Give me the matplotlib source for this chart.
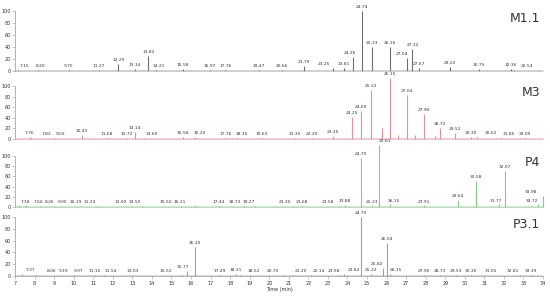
import matplotlib
matplotlib.use("Agg")
import matplotlib.pyplot as plt

# retention times (min) and relative abundance (%) of labelled peaks
m11_t = [7.15, 8.20, 9.75, 11.27, 12.29, 13.14, 13.82, 14.21, 15.58, 16.97, 17.76, 19.47,
         20.66, 21.79, 23.25, 23.81, 24.26, 24.74, 25.23, 26.16, 27.04, 27.32, 27.67,
         29.22, 30.75, 32.36, 32.54]
m11_h = [2, 2, 2, 2, 12, 3, 25, 1, 3, 2, 2, 2,
         2, 8, 5, 5, 23, 100, 40, 40, 22, 37, 5,
         6, 3, 4, 2]

m3_t = [7.76, 7.82, 9.03, 10.43, 11.68, 12.72, 13.14, 13.60, 15.58, 16.20, 17.76, 18.35,
        19.63, 21.30, 22.20, 23.25, 24.25, 24.69, 25.22, 26.15, 27.04, 27.90, 28.72,
        29.52, 30.30, 30.62, 31.85, 33.09]
m3_h = [3, 2, 2, 8, 1, 2, 13, 2, 4, 3, 2, 1,
        2, 2, 2, 5, 41, 53, 92, 115, 83, 47, 21,
        11, 3, 3, 2, 2]
m3_extra_t = [25.78, 26.60, 27.45, 28.50]
m3_extra_h = [20, 8, 7, 6]

p4_t = [7.18, 7.56, 8.26, 9.00, 10.19, 11.23, 13.00, 13.50, 15.50, 16.21, 17.44, 18.73,
        19.27, 21.20, 21.68, 23.58, 23.88, 24.70, 25.23, 25.61, 26.15, 27.91, 29.64,
        30.58, 31.77, 32.07, 33.72, 33.98]
p4_h = [3, 3, 2, 2, 2, 2, 2, 2, 2, 3, 2, 2,
        2, 2, 2, 2, 4, 96, 3, 122, 5, 3, 14,
        51, 5, 70, 5, 22]

p31_t = [7.37, 8.06, 9.19, 9.97, 11.10, 11.54, 13.03, 15.52, 15.77, 16.20, 17.49, 18.31,
         18.52, 20.70, 21.20, 22.14, 23.58, 23.82, 24.70, 25.22, 25.82, 26.04, 26.15,
         27.90, 28.73, 29.53, 30.30, 31.05, 32.81, 33.39]
p31_h = [3, 2, 2, 2, 2, 2, 2, 2, 8, 49, 2, 3,
         2, 2, 2, 2, 2, 3, 100, 3, 14, 56, 3,
         2, 2, 2, 2, 2, 2, 2]

names = ["M1.1", "M3", "P4", "P3.1"]

# label nudges (min), keyed by label text, so labels do not collide
nudge = [
    {"7.15": 0.35, "8.20": 0.1, "14.21": 0.15, "23.25": -0.45, "24.26": -0.15,
     "27.04": -0.25, "32.54": 0.65},
    {"7.82": 0.8, "9.03": 0.3, "13.60": 0.4, "16.20": 0.26, "18.35": 0.25, "30.62": 0.7,
     "31.85": 0.4},
    {"7.18": 0.35, "7.56": 0.62, "8.26": 0.5, "9.00": 0.45, "10.19": -0.1, "11.23": -0.4,
     "13.00": -0.6, "13.50": -0.4, "15.50": -0.8, "16.21": -0.8, "18.73": -0.5,
     "19.27": -0.3, "21.20": -0.4, "23.58": -0.6, "25.61": 0.3, "26.15": 0.25,
     "31.77": -0.2, "33.98": -0.6, "33.72": -0.3},
    {"7.37": 0.4, "8.06": 0.8, "9.19": 0.3, "9.97": 0.3, "11.54": 0.36, "15.52": -0.8,
     "15.77": -0.17, "18.52": 0.7, "20.70": -0.5, "21.20": 0.4, "22.14": 0.4,
     "23.58": -0.25, "23.82": 0.5, "25.82": -0.3, "26.15": 0.35, "31.05": 0.3,
     "32.81": -0.35},
]

colors = ["#6e6e6e", "#e58f9c", "#86cc86", "#9a9ad8"]
base_colors = ["#c8c8c8", "#f2c6cc", "#c4e8c4", "#cfcfee"]
# axes rectangles in figure fraction (left, bottom, width, height)
rects = [(0.0273, 0.7625, 0.96, 0.2007),
         (0.0273, 0.5351, 0.96, 0.1773),
         (0.0273, 0.3077, 0.96, 0.1706),
         (0.0273, 0.0769, 0.96, 0.1973)]

series = [(m11_t, m11_h, [], []),
          (m3_t, m3_h, m3_extra_t, m3_extra_h),
          (p4_t, p4_h, [], []),
          (p31_t, p31_h, [], [])]

fig = plt.figure(figsize=(5.5, 2.99), dpi=100)
txt = "#333333"

for i, (t, h, et, eh) in enumerate(series):
    ax = fig.add_axes(rects[i])
    ax.set_xlim(7, 34)
    ax.set_ylim(0, 100)
    ax.axhline(0, color=base_colors[i], lw=1.2, zorder=1)
    ax.vlines(t, 0, h, color=colors[i], lw=0.8, clip_on=False, zorder=2)
    if et:
        ax.vlines(et, 0, eh, color=colors[i], lw=0.8, clip_on=False, zorder=2)
    for tt, hh in zip(t, h):
        lab = "%.2f" % tt
        ax.annotate(lab, (tt + nudge[i].get(lab, 0), max(hh, 2)), xytext=(0, 1.4),
                    textcoords="offset points", ha="center", va="bottom",
                    fontsize=3.2, color=txt, annotation_clip=False)
    ax.text(0.995, 0.88, names[i], transform=ax.transAxes,
            ha="right", va="center", fontsize=9, color=txt)

    for s in ["top", "right"]:
        ax.spines[s].set_visible(False)
    ax.spines["left"].set_color("#999999")
    ax.spines["left"].set_linewidth(0.5)
    ax.spines["bottom"].set_color("#bbbbbb")
    ax.spines["bottom"].set_linewidth(0.5)
    ax.set_yticks([0, 20, 40, 60, 80, 100])
    ax.set_yticks(range(0, 101, 10), minor=True)
    ax.tick_params(axis="y", which="major", labelsize=3.5, length=2, width=0.4,
                   pad=1, colors="#999999", labelcolor=txt)
    ax.tick_params(axis="y", which="minor", length=1, width=0.3, colors="#999999")
    if i < 3:
        ax.set_xticks([])
    else:
        ax.set_xticks(range(7, 35))
        ax.set_xticks([x + 0.5 for x in range(7, 34)], minor=True)
        ax.tick_params(axis="x", which="major", labelsize=3.5, length=2, width=0.4,
                       pad=1.5, colors="#999999", labelcolor=txt)
        ax.tick_params(axis="x", which="minor", length=1, width=0.3, colors="#999999")
        ax.spines["bottom"].set_color("#999999")
        ax.set_xlabel("Time (min)", fontsize=3.5, color=txt, labelpad=1)

fig.savefig("out.png", dpi=100)
